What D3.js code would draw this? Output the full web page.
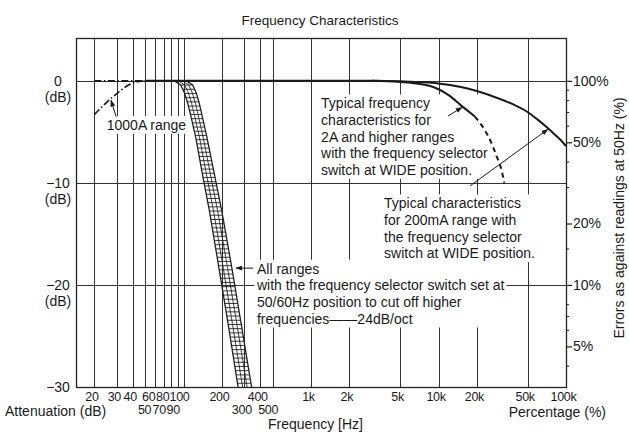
<!doctype html>
<html>
<head>
<meta charset="UTF-8">
<title>Frequency Characteristics</title>
<script src="https://d3js.org/d3.v7.min.js"></script>
<style>
  body { margin: 0; background: #fff; }
  svg text { font-family: "Liberation Sans", Arial, Helvetica, sans-serif; fill: #1a1a1a; }
</style>
</head>
<body>
<script>
// axis values
var gridHz = [20, 30, 40, 50, 60, 70, 80, 90, 100, 200, 300, 400, 500, 1000, 2000, 5000, 10000, 20000, 50000];
var hzLabelsTop = [20, 30, 40, 60, 80, 100, 200, 400, 1000, 2000, 5000, 10000, 20000, 50000, 100000];
var hzLabelsLow = [50, 70, 90, 300, 500];
var dbLabels = [0, -10, -20, -30];
var pctLabels = [100, 50, 20, 10, 5];
var pctMinor = [90, 80, 70, 60, 40, 30, 15, 8, 7, 6, 4];

// curves as [Hz, dB]
var flatLow = [[20, 0], [50, 0]];
var range1000A = [[20, -3.3], [25, -2.1], [30, -1.25], [35, -0.6], [40, -0.22], [45, -0.05], [50, 0]];
var wideOuter = [[50, 0], [3000, 0], [5000, -0.05], [10000, -0.25], [15000, -0.6], [20000, -1.0], [30000, -1.75], [40000, -2.4], [50000, -3.05], [60000, -3.8], [70000, -4.5], [80000, -5.15], [90000, -5.75], [100000, -6.4]];
var wideInner = [[3000, 0], [5000, -0.1], [8600, -0.5], [12000, -1.4], [15000, -2.4], [19300, -3.5]];
var wideInnerTail = [[19300, -3.5], [23000, -4.8], [25400, -5.8], [28600, -7.4], [31300, -8.8], [32800, -10]];

// 50/60Hz filter band, low and high edge
var bandLow = [[85, 0], [95, -0.4], [102, -1.2], [108, -2.2], [115, -3.6], [125, -5.6], [140, -9], [160, -12.8], [190, -18.4], [225, -24], [268, -30]];
var bandHigh = [[105, 0], [118, -0.4], [126, -1.2], [133, -2.2], [141, -3.6], [153, -5.6], [175, -9.2], [200, -12.8], [240, -18.4], [285, -24], [342, -30]];

// annotation texts
var note2A = ["Typical frequency", "characteristics for", "2A and higher ranges", "with the frequency selector", "switch at WIDE position."];
var note200mA = ["Typical characteristics", "for 200mA range with", "the frequency selector", "switch at WIDE position."];
var noteFilter = ["All ranges", "with the frequency selector switch set at", "50/60Hz position to cut off higher", "frequencies\u2014\u201424dB/oct"];
var note1000A = ["1000A range"];

var w = 629, h = 435;
var x = d3.scaleLog().domain([14.35, 100000]).range([76, 566]);
var y = d3.scaleLinear().domain([-30, 4.2]).range([387, 38]);
var yPct = d3.scaleLog()
    .domain([100 * Math.pow(10, 4.2 / 20), 100 * Math.pow(10, -30 / 20)])
    .range([38, 387]);
var x0 = x.range()[0], x1 = x.range()[1], yTop = y.range()[1], yBot = y.range()[0];
var ink = "#1a1a1a";

var svg = d3.select("body").append("svg").attr("width", w).attr("height", h);
var defs = svg.append("defs");
defs.append("clipPath").attr("id", "plot").append("rect")
    .attr("x", x0).attr("y", yTop).attr("width", x1 - x0).attr("height", yBot - yTop);
defs.append("marker").attr("id", "arr")
    .attr("viewBox", "0 0 10 10").attr("refX", 9).attr("refY", 5)
    .attr("markerWidth", 7).attr("markerHeight", 7).attr("orient", "auto")
  .append("path").attr("d", "M0,1.5L10,5L0,8.5z").attr("fill", ink);

var gGrid = svg.append("g");
var gMask = svg.append("g");
var gBand = svg.append("g").attr("clip-path", "url(#plot)");
var gCurve = svg.append("g").attr("clip-path", "url(#plot)");
var gText = svg.append("g");
var gFrame = svg.append("g");

function px(v) { return Math.round(v) + 0.5; }

// grid
gGrid.selectAll("line.v").data(gridHz).enter().append("line")
    .attr("x1", function(d) { return px(x(d)); })
    .attr("x2", function(d) { return px(x(d)); })
    .attr("y1", yTop).attr("y2", yBot)
    .attr("stroke", "#333").attr("stroke-width", 1);
gGrid.selectAll("line.h").data([0, -10, -20]).enter().append("line")
    .attr("x1", x0).attr("x2", x1)
    .attr("y1", function(d) { return px(y(d)); })
    .attr("y2", function(d) { return px(y(d)); })
    .attr("stroke", "#333").attr("stroke-width", 1.2);

// hatched filter band
function edgeFn(edge) {
    var s = d3.scaleLinear().domain(edge.map(function(d) { return d[1]; }))
        .range(edge.map(function(d) { return Math.log10(d[0]); }));
    return function(db) { return x(Math.pow(10, s(db))); };
}
var xl = edgeFn(bandLow), xr = edgeFn(bandHigh);
var dbs = d3.range(0, -31.01, -0.2);
[0, 1 / 3, 2 / 3, 1].forEach(function(t) {
    gBand.append("path")
        .attr("d", d3.line()(dbs.map(function(db) { return [xl(db) + t * (xr(db) - xl(db)), y(db)]; })))
        .attr("fill", "none").attr("stroke", "#222")
        .attr("stroke-width", (t === 0 || t === 1) ? 1.3 : 0.9);
});
gBand.selectAll("line.rung").data(d3.range(y(0) + 4.2, yBot + 4, 4.2)).enter().append("line")
    .attr("x1", function(p) { return xl(y.invert(p)); })
    .attr("x2", function(p) { return xr(y.invert(p)); })
    .attr("y1", function(p) { return p; }).attr("y2", function(p) { return p; })
    .attr("stroke", "#222").attr("stroke-width", 0.9);

// curves
var line = d3.line()
    .x(function(d) { return x(d[0]); })
    .y(function(d) { return y(d[1]); })
    .curve(d3.curveMonotoneX);
function curve(data, width, dash) {
    gCurve.append("path").datum(data).attr("d", line)
        .attr("fill", "none").attr("stroke", ink)
        .attr("stroke-width", width).attr("stroke-dasharray", dash);
}
curve(flatLow, 1.8, "7,2.5,1.5,2.5");
curve(range1000A, 1.6, "7,2.5,1.5,2.5");
curve(wideOuter, 2, null);
curve(wideInner, 2, null);
curve(wideInnerTail, 2, "5,4");

// notes with white backing that hides the grid
function note(lines, hz, db) {
    var t = gText.append("text").attr("x", x(hz)).attr("y", y(db)).attr("font-size", 14);
    lines.forEach(function(s, i) {
        t.append("tspan").attr("x", x(hz)).attr("dy", i ? 16.6 : 0).text(s);
    });
    var b = t.node().getBBox();
    gMask.append("rect")
        .attr("x", b.x - 2).attr("y", b.y - 1)
        .attr("width", b.width + 4).attr("height", b.height + 2)
        .attr("fill", "#fff");
}
note(note2A, 1200, -2.7);
note(note200mA, 3740, -12.5);
note(noteFilter, 377, -18.9);
note(note1000A, 25, -4.8);

function arrow(a, b) {
    gText.append("line")
        .attr("x1", x(a[0])).attr("y1", y(a[1]))
        .attr("x2", x(b[0])).attr("y2", y(b[1]))
        .attr("stroke", ink).attr("stroke-width", 1)
        .attr("marker-end", "url(#arr)");
}
arrow([29.6, -3.5], [27, -1.9]);
arrow([11870, -3.45], [15300, -2.6]);
arrow([17660, -10.3], [72000, -4.75]);
arrow([351, -18.35], [258, -18.35]);

// frame
gFrame.append("rect")
    .attr("x", px(x0)).attr("y", px(yTop))
    .attr("width", Math.round(x1 - x0)).attr("height", Math.round(yBot - yTop))
    .attr("fill", "none").attr("stroke", "#222").attr("stroke-width", 1.3);

// left dB labels
var gL = svg.append("g").attr("font-size", 14).attr("text-anchor", "middle");
gL.selectAll("text.v").data(dbLabels).enter().append("text")
    .attr("x", 58).attr("y", function(d) { return y(d) + 5; })
    .text(function(d) { return d === 0 ? "0" : "\u2212" + Math.abs(d); });
gL.selectAll("text.u").data(dbLabels.filter(function(d) { return d > -30; })).enter().append("text")
    .attr("x", 58).attr("y", function(d) { return y(d) + 21; })
    .text("(dB)");

// right percent axis
var gR = svg.append("g").attr("transform", "translate(" + x1 + ",0)")
    .call(d3.axisRight(yPct).tickValues(pctLabels)
        .tickFormat(function(d) { return d + "%"; }).tickSize(6).tickPadding(1));
gR.attr("font-family", null).attr("font-size", 14);
gR.select(".domain").remove();
gR.selectAll(".tick line").attr("stroke", ink).attr("stroke-width", 1.2);
gR.selectAll("line.minor").data(pctMinor).enter().append("line")
    .attr("x1", 0).attr("x2", 3)
    .attr("y1", function(d) { return yPct(d); }).attr("y2", function(d) { return yPct(d); })
    .attr("stroke", ink).attr("stroke-width", 1);

// bottom frequency labels, two rows
function hzFmt(d) { return d >= 1000 ? (d / 1000) + "k" : d; }
var nudge = { 50: -1, 60: -7, 80: -9, 100: -4.5, 70: -5, 90: -5, 500: -5 };
function hzRow(vals, dyRow) {
    var g = svg.append("g").attr("transform", "translate(0," + (yBot + dyRow) + ")")
        .call(d3.axisBottom(x).tickValues(vals).tickFormat(hzFmt).tickSize(0).tickPadding(5));
    g.attr("font-family", null).attr("font-size", 12.5).attr("letter-spacing", -0.3);
    g.select(".domain").remove();
    g.selectAll(".tick text").attr("dx", function(d) { return nudge[d] !== undefined ? nudge[d] : -3; });
}
hzRow(hzLabelsTop, 0);
hzRow(hzLabelsLow, 13.5);

// titles
svg.append("text").attr("x", 320).attr("y", 25).attr("text-anchor", "middle")
    .attr("font-size", 13.5).text("Frequency Characteristics");
svg.append("text").attr("x", 5).attr("y", 416).attr("font-size", 14).text("Attenuation (dB)");
svg.append("text").attr("x", 606).attr("y", 416.5).attr("text-anchor", "end")
    .attr("font-size", 14).text("Percentage (%)");
svg.append("text").attr("x", 315.5).attr("y", 429).attr("text-anchor", "middle")
    .attr("font-size", 14).text("Frequency [Hz]");
svg.append("text").attr("transform", "translate(624,218) rotate(-90)")
    .attr("text-anchor", "middle").attr("font-size", 14)
    .text("Errors as against readings at 50Hz (%)");
</script>
</body>
</html>
